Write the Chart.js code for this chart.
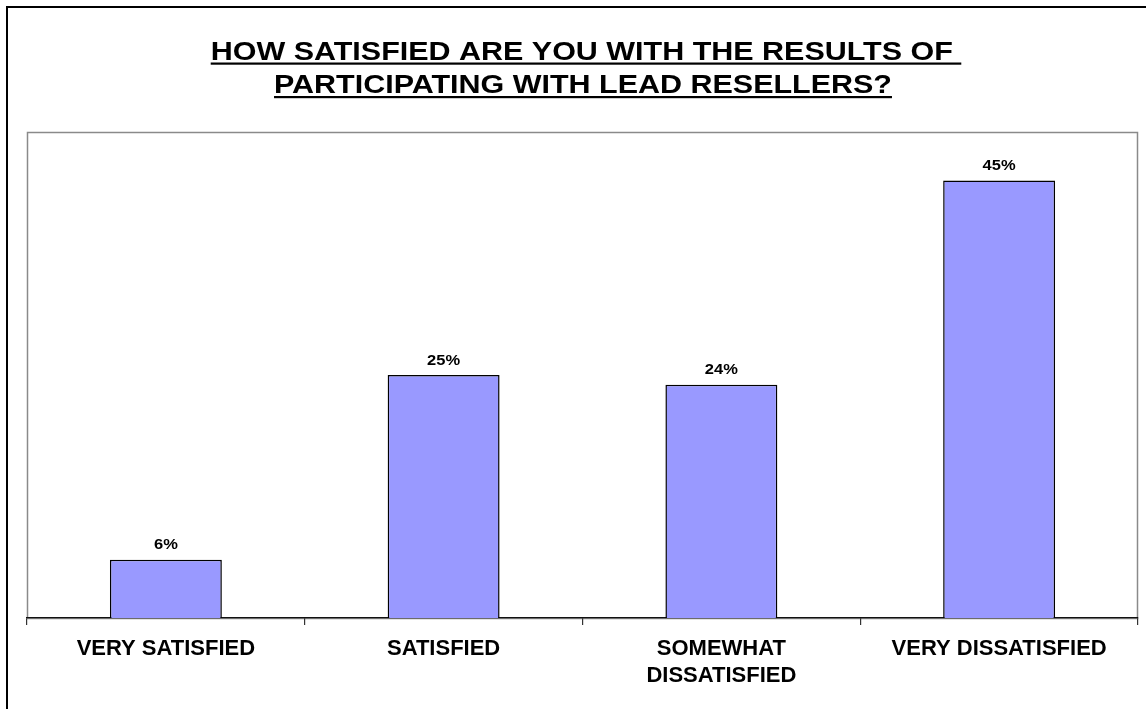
<!DOCTYPE html>
<html>
<head>
<meta charset="utf-8">
<script src="https://cdn.jsdelivr.net/npm/chart.js@4"></script>
<style>
html,body{margin:0;padding:0;background:#fff;}
#wrap{position:relative;width:1146px;height:709px;}
</style>
</head>
<body>
<div id="wrap"><canvas id="c" width="1146" height="709"></canvas></div>
<script>
const titleLines = ['HOW SATISFIED ARE YOU WITH THE RESULTS OF ', 'PARTICIPATING WITH LEAD RESELLERS?'];
const categories = ['VERY SATISFIED', 'SATISFIED', ['SOMEWHAT', 'DISSATISFIED'], 'VERY DISSATISFIED'];
const percentValues = [6, 25, 24, 45];
const valueLabels = ['6%', '25%', '24%', '45%'];

const FONT = '"Liberation Sans", Arial, Helvetica, sans-serif';
const STRETCH = 1.15;

const decor = {
  id: 'decor',
  beforeDraw(chart) {
    const ctx = chart.ctx, a = chart.chartArea;
    ctx.save();
    ctx.fillStyle = '#fff';
    ctx.fillRect(0, 0, chart.width, chart.height);
    // outer frame (left + top)
    ctx.strokeStyle = '#000';
    ctx.lineWidth = 2;
    ctx.beginPath();
    ctx.moveTo(7, chart.height);
    ctx.lineTo(7, 7);
    ctx.lineTo(chart.width, 7);
    ctx.stroke();
    // plot area border
    ctx.strokeStyle = '#8a8a8a';
    ctx.lineWidth = 1.5;
    ctx.strokeRect(a.left + 0.5, a.top + 0.5, a.right - a.left - 1, a.bottom - a.top);
    ctx.restore();
  },
  afterDraw(chart) {
    const ctx = chart.ctx;
    ctx.save();
    // title
    ctx.fillStyle = '#000';
    ctx.strokeStyle = '#000';
    ctx.font = 'bold 26.5px ' + FONT;
    ctx.textBaseline = 'alphabetic';
    const centers = [586, 583];
    const baselines = [59.5, 93];
    titleLines.forEach((t, i) => {
      const w = ctx.measureText(t).width * STRETCH;
      const x0 = centers[i] - w / 2;
      ctx.save();
      ctx.translate(x0, baselines[i]);
      ctx.scale(STRETCH, 1);
      ctx.textAlign = 'left';
      ctx.fillText(t, 0, 0);
      ctx.restore();
      ctx.fillRect(x0, baselines[i] + 3, w, 2.2);
    });
    // value labels above bars
    const meta = chart.getDatasetMeta(0);
    ctx.font = 'bold 15px ' + FONT;
    meta.data.forEach((bar, i) => {
      ctx.save();
      ctx.translate(bar.x, bar.y - 10.5);
      ctx.scale(1.1, 1);
      ctx.textAlign = 'center';
      ctx.fillText(valueLabels[i], 0, 0);
      ctx.restore();
    });
    ctx.restore();
  }
};

new Chart(document.getElementById('c'), {
  type: 'bar',
  data: {
    labels: categories,
    datasets: [{
      data: percentValues,
      backgroundColor: '#9999FF',
      borderColor: '#000',
      borderWidth: 1.5,
      categoryPercentage: 1,
      barPercentage: 0.403
    }]
  },
  options: {
    responsive: false,
    animation: false,
    devicePixelRatio: 1,
    layout: { padding: { left: 27, right: 8, top: 132, bottom: 0 } },
    plugins: { legend: { display: false }, title: { display: false }, tooltip: { enabled: false } },
    scales: {
      y: { display: false, min: 0, max: 50 },
      x: {
        afterFit(s) { s.height = 91; },
        border: { color: '#111', width: 1.2 },
        grid: { offset: true, drawOnChartArea: false, drawTicks: true, tickLength: 7, color: '#333', lineWidth: 1.2 },
        ticks: {
          color: '#000',
          padding: 11,
          maxRotation: 0,
          autoSkip: false,
          font: { family: FONT, size: 22, weight: 'bold', lineHeight: 1.2 }
        }
      }
    }
  },
  plugins: [decor]
});
</script>
</body>
</html>
